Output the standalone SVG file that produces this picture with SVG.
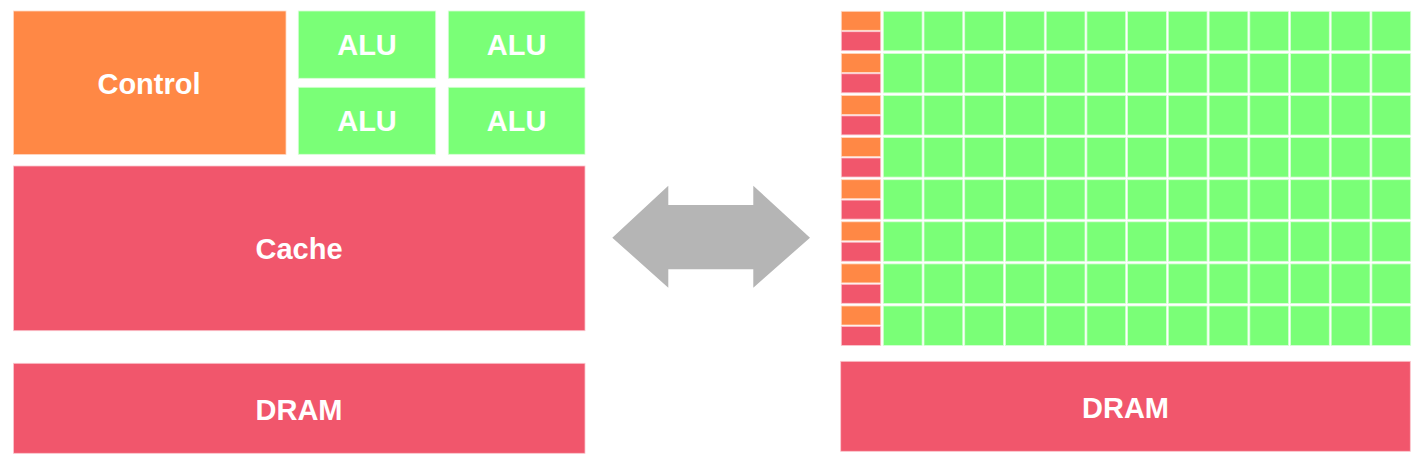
<svg xmlns="http://www.w3.org/2000/svg" xmlns:xlink="http://www.w3.org/1999/xlink" width="1421" height="464" viewBox="0 0 1421 464">
<style>
.o{fill:#FF8845;stroke:#ffd9c4;stroke-width:0.8}
.r{fill:#F1566C;stroke:#fbc6ce;stroke-width:0.8}
.g{fill:#7AFF77;stroke:#d8ffd6;stroke-width:0.8}
.t{font-family:"Liberation Sans",Arial,Helvetica,sans-serif;font-weight:bold;font-size:29px;fill:#fff;text-anchor:middle}
.arrow{fill:#B5B5B5}
</style>
<defs>
<g id="row">
<rect class="o" x="841.3" y="0" width="39.4" height="19"/>
<rect class="r" x="841.3" y="20.4" width="39.4" height="19"/>
<rect class="g" x="883.3" y="0" width="38.8" height="39.5"/>
<rect class="g" x="924.0" y="0" width="38.8" height="39.5"/>
<rect class="g" x="964.7" y="0" width="38.8" height="39.5"/>
<rect class="g" x="1005.5" y="0" width="38.8" height="39.5"/>
<rect class="g" x="1046.2" y="0" width="38.8" height="39.5"/>
<rect class="g" x="1086.9" y="0" width="38.8" height="39.5"/>
<rect class="g" x="1127.6" y="0" width="38.8" height="39.5"/>
<rect class="g" x="1168.3" y="0" width="38.8" height="39.5"/>
<rect class="g" x="1209.1" y="0" width="38.8" height="39.5"/>
<rect class="g" x="1249.8" y="0" width="38.8" height="39.5"/>
<rect class="g" x="1290.5" y="0" width="38.8" height="39.5"/>
<rect class="g" x="1331.2" y="0" width="38.8" height="39.5"/>
<rect class="g" x="1371.9" y="0" width="38.8" height="39.5"/>
</g>
</defs>
<rect width="1421" height="464" fill="#fff"/>
<g id="cpu">
<g id="control"><rect class="o" x="13.5" y="11" width="272.5" height="143.5"/><text class="t" x="149" y="94">Control</text></g>
<g id="alu1"><rect class="g" x="298.3" y="11" width="137.4" height="67.3"/><text class="t" x="367" y="55.3">ALU</text></g>
<g id="alu2"><rect class="g" x="448.3" y="11" width="136.7" height="67.3"/><text class="t" x="516.6" y="55.3">ALU</text></g>
<g id="alu3"><rect class="g" x="298.3" y="87.3" width="137.4" height="67"/><text class="t" x="367" y="131">ALU</text></g>
<g id="alu4"><rect class="g" x="448.3" y="87.3" width="136.7" height="67"/><text class="t" x="516.6" y="131">ALU</text></g>
<g id="cache"><rect class="r" x="13.5" y="166" width="571.5" height="164.7"/><text class="t" x="299" y="259">Cache</text></g>
<g id="cpu-dram"><rect class="r" x="13.5" y="363.3" width="571.5" height="90"/><text class="t" x="299" y="419.5">DRAM</text></g>
</g>
<g id="connectors">
<polygon class="arrow" points="612.3,237.7 668.3,185.7 668.3,205 753.3,205 753.3,185.7 810,237.7 753.3,287.7 753.3,269.3 668.3,269.3 668.3,287.7"/>
</g>
<g id="gpu">
<g id="gpu-cores">
<use xlink:href="#row" y="11.3"/>
<use xlink:href="#row" y="53.4"/>
<use xlink:href="#row" y="95.5"/>
<use xlink:href="#row" y="137.6"/>
<use xlink:href="#row" y="179.7"/>
<use xlink:href="#row" y="221.8"/>
<use xlink:href="#row" y="263.9"/>
<use xlink:href="#row" y="306.0"/>
</g>
<g id="gpu-dram"><rect class="r" x="840.7" y="361.3" width="569.6" height="90"/><text class="t" x="1125.5" y="417.5">DRAM</text></g>
</g>
</svg>
